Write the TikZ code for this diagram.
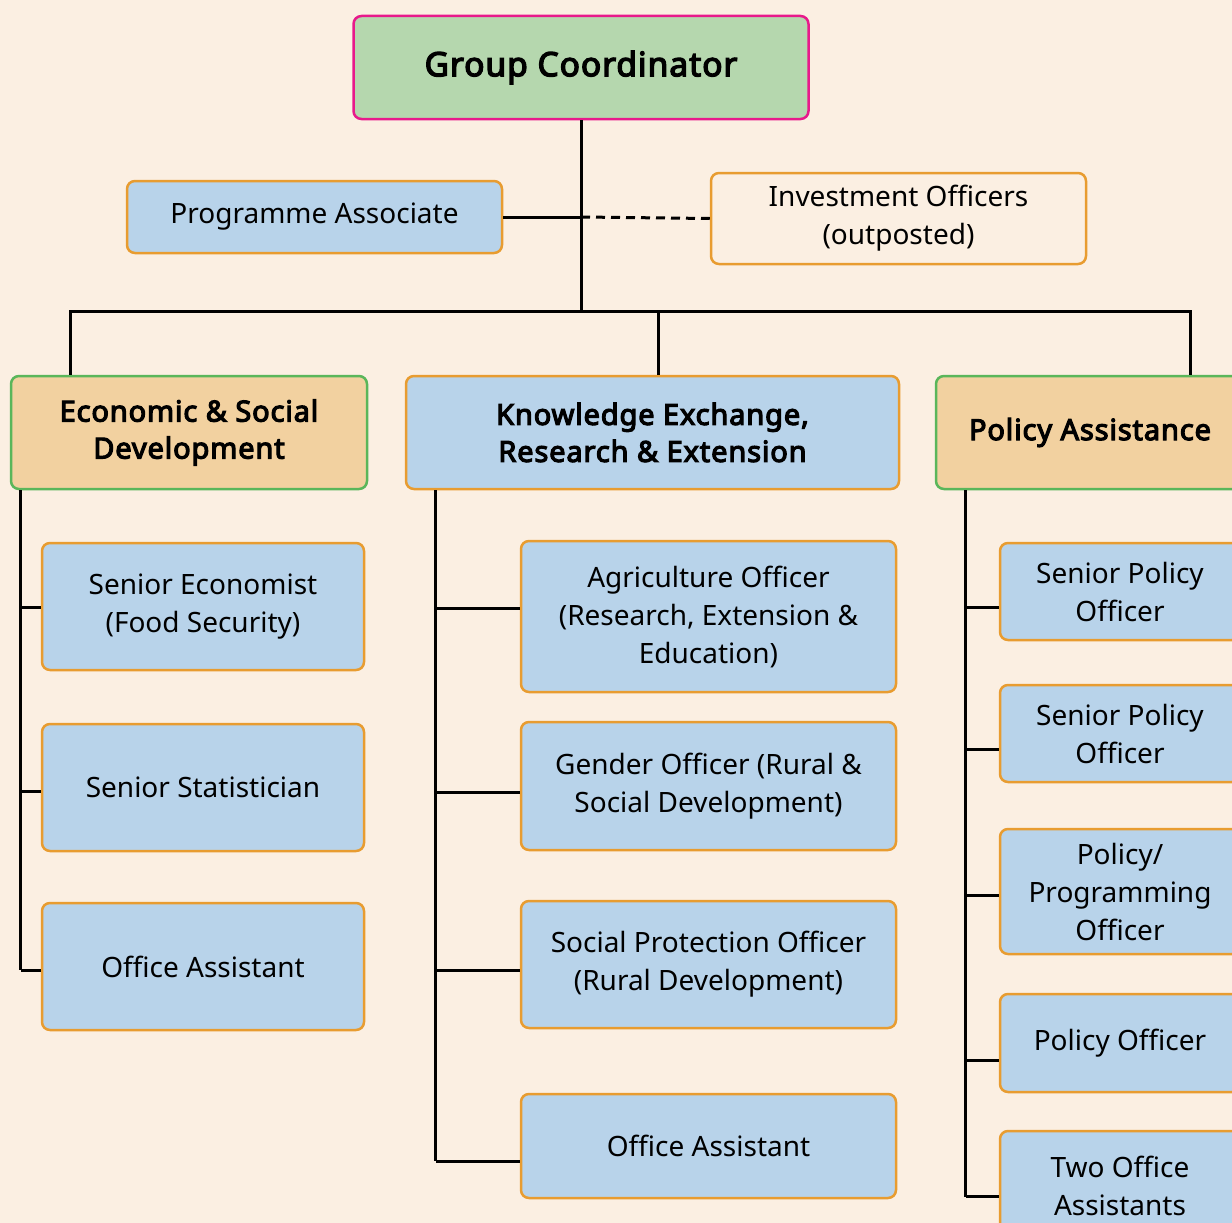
\documentclass[tikz,border=0pt]{standalone}
\usepackage{fontspec}
\setmainfont{Noto Sans}[BoldFont={Noto Sans}, BoldFeatures={FakeBold=4, LetterSpace=3}]
\usepackage{tikz}
\usetikzlibrary{positioning}

\definecolor{bgpeach}{HTML}{FBEFE2}
\definecolor{roleblue}{HTML}{B8D3EA}
\definecolor{roleorange}{HTML}{E89C30}
\definecolor{unittan}{HTML}{F2D1A0}
\definecolor{unitgreen}{HTML}{5AB65A}
\definecolor{topgreen}{HTML}{B5D7AE}
\definecolor{topmagenta}{HTML}{E8198B}

\tikzset{
  role/.style={draw=roleorange, fill=roleblue, rounded corners=8pt, line width=2.5pt,
    align=center, inner sep=0pt, font=\fontsize{28}{38}\selectfont},
  unit/.style={role, font=\fontsize{29}{37}\selectfont\bfseries},
  tanunit/.style={unit, draw=unitgreen, fill=unittan},
  link/.style={line width=3pt, black},
}

\begin{document}
\begin{tikzpicture}[x=1pt,y=-1pt]
\fill[bgpeach] (0,0) rectangle (1232,1223);
\useasboundingbox (0,0) rectangle (1232,1223);

% top of the tree
\node[role, draw=topmagenta, fill=topgreen, minimum width=455pt, minimum height=103pt,
  font=\fontsize{33.5}{42}\selectfont\bfseries] (gc) at (581,67.5) {Group Coordinator};
\node[role, minimum width=375pt, minimum height=72pt] (pa) at (314.5,217) {Programme Associate};
\node[role, fill=none, minimum width=375pt, minimum height=91pt] (inv) at (898.5,218.5)
  {Investment Officers\\(outposted)};

% the three units
\node[tanunit, minimum width=356pt, minimum height=113pt] (esd) at (189,432.5)
  {Economic \& Social\\Development};
\node[unit, minimum width=493pt, minimum height=113pt] (kere) at (652.5,432.5)
  {Knowledge Exchange,\\Research \& Extension};
\node[tanunit, minimum width=308pt, minimum height=113pt] (pol) at (1090,432.5)
  {Policy Assistance};

% economic & social development
\node[role, minimum width=322pt, minimum height=127pt] (se) at (203,606.5)
  {Senior Economist\\(Food Security)};
\node[role, minimum width=322pt, minimum height=127pt] (ss) at (203,787.5) {Senior Statistician};
\node[role, minimum width=322pt, minimum height=127pt] (oaA) at (203,966.5) {Office Assistant};

% knowledge exchange
\node[role, minimum width=375pt, minimum height=151pt] (ag) at (708.5,616.5)
  {Agriculture Officer\\(Research, Extension \&\\Education)};
\node[role, minimum width=375pt, minimum height=128pt] (go) at (708.5,786)
  {Gender Officer (Rural \&\\Social Development)};
\node[role, minimum width=375pt, minimum height=127pt] (spo) at (708.5,964.5)
  {Social Protection Officer\\(Rural Development)};
\node[role, minimum width=375pt, minimum height=104pt] (oaB) at (708.5,1146) {Office Assistant};

% policy assistance
\node[role, minimum width=240pt, minimum height=97pt] (spA) at (1120,591.5) {Senior Policy\\Officer};
\node[role, minimum width=240pt, minimum height=97pt] (spB) at (1120,733.5) {Senior Policy\\Officer};
\node[role, minimum width=240pt, minimum height=125pt] (ppo) at (1120,891.5)
  {Policy/\\Programming\\Officer};
\node[role, minimum width=240pt, minimum height=98pt] (po) at (1120,1043) {Policy Officer};
\node[role, minimum width=240pt, minimum height=110pt] (toa) at (1120,1186)
  {Two Office\\Assistants};

\coordinate (barL) at (70,311);
\coordinate (barR) at (1190,311);
\coordinate (hub) at (581,311);

\draw[link] (gc.south) -- (hub);
\draw[link] (pa.east) -- (pa.east -| hub);
\draw[link, dash pattern=on 9pt off 6pt] (pa.east -| hub) -- (inv.west);
\draw[link] (barL |- esd.north) -- (barL) -- (barR) -- (barR |- pol.north);
\draw[link] (kere.north -| 658,0) -- (658,311);

% spines
\coordinate (esdS) at ([xshift=11pt]esd.south west);
\coordinate (kereS) at ([xshift=31pt]kere.south west);
\coordinate (polS) at ([xshift=31pt]pol.south west);

\draw[link] (esdS) -- (esdS |- 0,970);
\foreach \n/\y in {se/607, ss/791, oaA/970}
  \draw[link] (esdS |- 0,\y) -- (\n.west |- 0,\y);

\draw[link] (kereS) -- (kereS |- 0,1161);
\foreach \n/\y in {ag/608, go/792, spo/970, oaB/1161}
  \draw[link] (kereS |- 0,\y) -- (\n.west |- 0,\y);

\draw[link] (polS) -- (polS |- 0,1197);
\foreach \n/\y in {spA/607, spB/749, ppo/895, po/1060, toa/1196}
  \draw[link] (polS |- 0,\y) -- (\n.west |- 0,\y);
\end{tikzpicture}
\end{document}
